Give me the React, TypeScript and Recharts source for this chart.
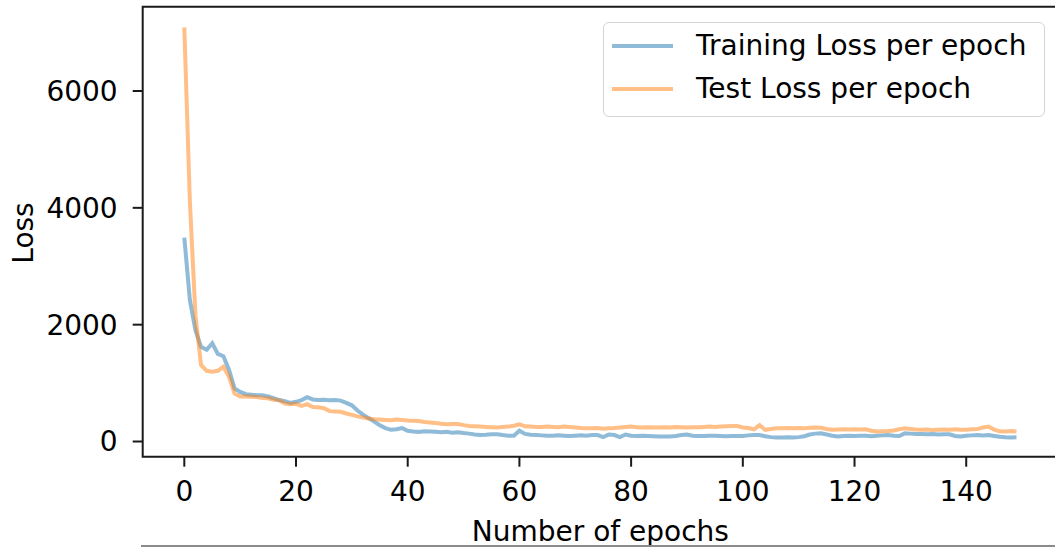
import React from 'react';
import {
  LineChart,
  Line,
  XAxis,
  YAxis,
  Legend,
  ReferenceArea,
} from 'recharts';

// loss per epoch (epochs 0..149)
const trainLoss = [
  3490, 2420, 1900, 1620, 1570, 1680, 1500, 1460, 1230, 910,
  850, 810, 800, 790, 790, 770, 740, 710, 690, 660,
  680, 710, 760, 720, 710, 715, 705, 710, 700, 660,
  620, 530, 460, 400, 340, 280, 230, 200, 210, 230,
  185, 170, 165, 175, 170, 165, 160, 165, 150, 160,
  145, 135, 120, 110, 115, 125, 125, 110, 100, 100,
  185, 130, 115, 110, 105, 100, 100, 105, 100, 95,
  100, 105, 100, 110, 110, 75, 120, 110, 75, 120,
  100, 95, 100, 95, 90, 85, 85, 85, 95, 110,
  120, 100, 95, 95, 100, 100, 95, 90, 95, 95,
  95, 105, 110, 110, 90, 75, 70, 70, 72, 70,
  75, 90, 120, 135, 140, 120, 100, 85, 95, 100,
  95, 100, 100, 90, 100, 105, 110, 100, 95, 140,
  135, 130, 130, 125, 128, 120, 125, 123, 95, 85,
  100, 105, 110, 105, 110, 95, 80, 72, 70, 72,
];

const testLoss = [
  7090, 4100, 2150, 1310, 1210, 1195, 1210, 1280, 1110, 820,
  770, 770, 765, 760, 745, 740, 715, 705, 650, 640,
  645, 610, 640, 590, 585, 570, 520, 515, 510, 480,
  455, 430, 410, 395, 380, 375, 370, 365, 375, 370,
  360, 355, 350, 335, 325, 315, 305, 295, 300, 300,
  280, 265, 260, 255, 250, 245, 240, 250, 255, 270,
  295, 260, 255, 250, 250, 255, 250, 245, 255, 250,
  240, 230, 225, 225, 230, 220, 225, 230, 240, 250,
  255, 245, 240, 245, 240, 240, 245, 240, 250, 245,
  240, 245, 245, 250, 255, 250, 255, 260, 265, 265,
  240, 230, 210, 280, 200, 215, 225, 225, 230, 225,
  230, 225, 235, 240, 235, 215, 200, 205, 210, 205,
  210, 205, 210, 185, 170, 175, 180, 190, 210, 225,
  215, 205, 200, 205, 195, 200, 205, 200, 210, 200,
  200, 210, 215, 240, 255, 205, 175, 170, 180, 170,
];

const seriesNames = ['Training Loss per epoch', 'Test Loss per epoch'];
const seriesColors = ['#1f77b4', '#ff7f0e'];
const xTicks = [0, 20, 40, 60, 80, 100, 120, 140];
const yTicks = [0, 2000, 4000, 6000];

const data = trainLoss.map((v, i) => ({ epoch: i, train: v, test: testLoss[i] }));

const font = "'DejaVu Sans', Verdana, sans-serif";
const xDomain = [-7.45, 156.45];
const yDomain = [-260, 7443];

function LegendBox() {
  return (
    <div
      style={{
        boxSizing: 'border-box',
        width: 442,
        height: 95,
        border: '1.5px solid #d4d4d4',
        borderRadius: 6,
        background: 'rgba(255,255,255,0.8)',
        fontFamily: font,
        fontSize: 28,
        color: '#000',
        position: 'relative',
      }}
    >
      {seriesNames.map((name, i) => (
        <div key={name} style={{ position: 'absolute', left: 0, top: i * 43 + 4, height: 40, width: '100%' }}>
          <div
            style={{
              position: 'absolute',
              left: 8,
              top: 17,
              width: 61,
              height: 4,
              background: seriesColors[i],
              opacity: 0.5,
            }}
          />
          <span style={{ position: 'absolute', left: 92, top: 0, lineHeight: '38px', whiteSpace: 'nowrap' }}>
            {name}
          </span>
        </div>
      ))}
    </div>
  );
}

export default function App() {
  return (
    <div style={{ position: 'absolute', left: 0, top: 0, width: 1055, height: 548, overflow: 'hidden', background: '#fff' }}>
      <LineChart
        width={1060}
        height={548}
        data={data}
        margin={{ top: 6.7, right: 1.9, bottom: 31.3, left: 0 }}
      >
        <XAxis
          type="number"
          dataKey="epoch"
          domain={xDomain}
          ticks={xTicks}
          allowDataOverflow
          height={60}
          axisLine={false}
          tickSize={10}
          tickMargin={14}
          tickLine={{ stroke: '#1a1a1a', strokeWidth: 2 }}
          tick={{ fill: '#000', fontSize: 28, fontFamily: font }}
          label={{
            content: () => (
              <text x={600.4} y={541} textAnchor="middle" fontSize={28} fontFamily={font} fill="#000">
                Number of epochs
              </text>
            ),
          }}
        />
        <YAxis
          type="number"
          domain={yDomain}
          ticks={yTicks}
          allowDataOverflow
          width={142.7}
          axisLine={false}
          tickSize={10}
          tickMargin={15}
          tickLine={{ stroke: '#1a1a1a', strokeWidth: 2 }}
          tick={{ fill: '#000', fontSize: 28, fontFamily: font }}
          label={{
            content: () => (
              <text
                transform="translate(33,233) rotate(-90)"
                textAnchor="middle"
                fontSize={28}
                fontFamily={font}
                fill="#000"
              >
                Loss
              </text>
            ),
          }}
        />
        <ReferenceArea
          x1={xDomain[0]}
          x2={xDomain[1]}
          y1={yDomain[0]}
          y2={yDomain[1]}
          fill="none"
          stroke="#1a1a1a"
          strokeWidth={2}
          ifOverflow="visible"
        />
        <Line
          type="linear"
          dataKey="train"
          name={seriesNames[0]}
          stroke={seriesColors[0]}
          strokeOpacity={0.5}
          strokeWidth={4}
          dot={false}
          isAnimationActive={false}
        />
        <Line
          type="linear"
          dataKey="test"
          name={seriesNames[1]}
          stroke={seriesColors[1]}
          strokeOpacity={0.5}
          strokeWidth={4}
          dot={false}
          isAnimationActive={false}
        />
        <Legend
          layout="horizontal"
          verticalAlign="middle"
          align="center"
          wrapperStyle={{ left: 603, top: 22, width: 442, height: 95 }}
          content={LegendBox}
        />
      </LineChart>
      <div style={{ position: 'absolute', left: 141, top: 545, width: 914, height: 2, background: '#8a8a8a' }} />
    </div>
  );
}
